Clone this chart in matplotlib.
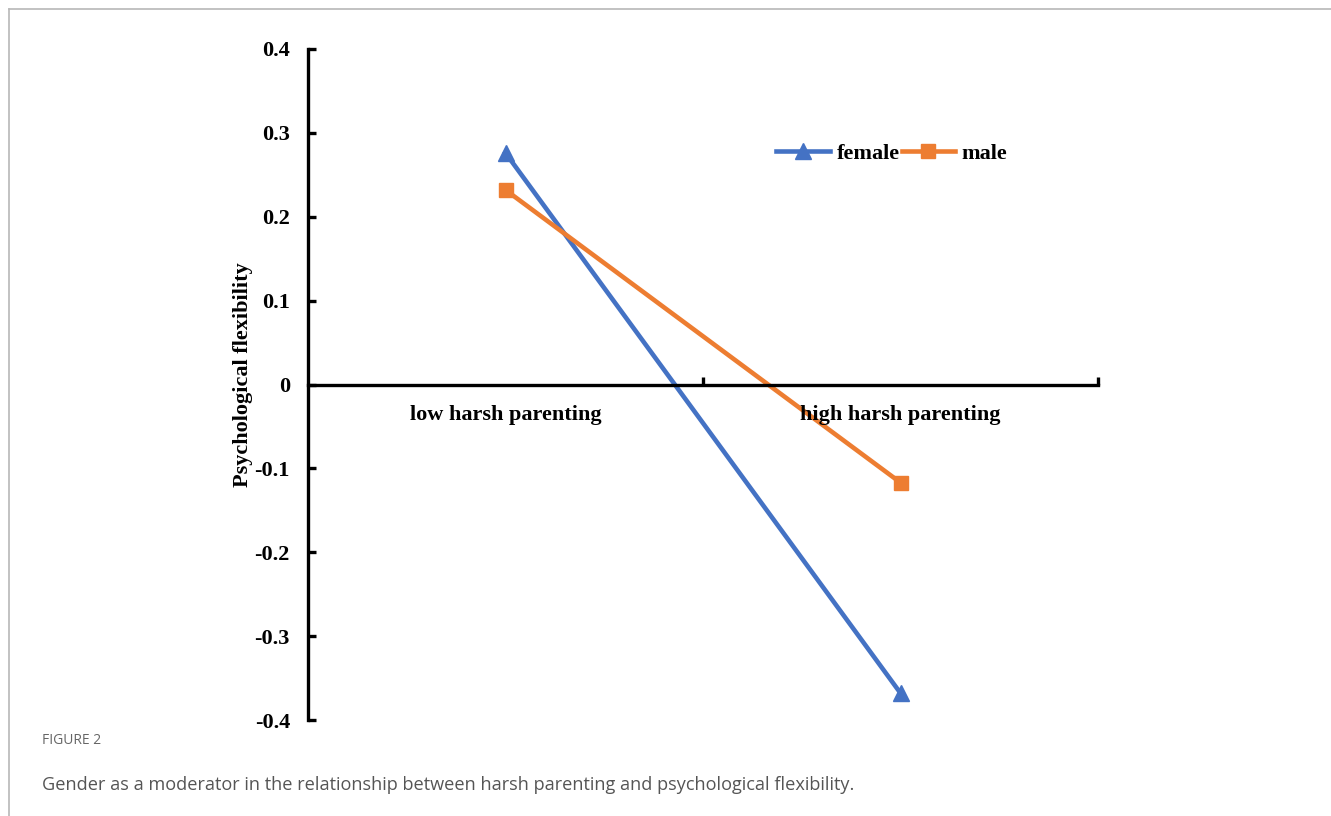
import matplotlib.pyplot as plt
from matplotlib.lines import Line2D

categories = ["low harsh parenting", "high harsh parenting"]
female = [0.276, -0.368]
male = [0.232, -0.117]
yticks = [-0.4, -0.3, -0.2, -0.1, 0, 0.1, 0.2, 0.3, 0.4]
ytick_labels = ["-0.4", "-0.3", "-0.2", "-0.1", "0", "0.1", "0.2", "0.3", "0.4"]

W, H = 1331, 816
fig = plt.figure(figsize=(W / 100, H / 100), dpi=100)

# light gray frame (top + left only)
fig.add_artist(Line2D([8.5 / W, 1], [1 - 9 / H, 1 - 9 / H], color="#b8b8b8", lw=1.2))
fig.add_artist(Line2D([8.5 / W, 8.5 / W], [0, 1 - 9 / H], color="#b8b8b8", lw=1.2))

ax = fig.add_axes([308 / W, 1 - 720 / H, (1098 - 308) / W, (720 - 49) / H])
serif = "Liberation Serif"
fs = 16

xs = [0.5 + i for i in range(len(categories))]
ax.plot(xs, female, color="#4472C4", lw=3.3, marker="^", ms=11, label="female", clip_on=False)
ax.plot(xs, male, color="#ED7D31", lw=3.3, marker="s", ms=9.5, label="male", clip_on=False)

ax.set_xlim(0, 2)
ax.set_ylim(-0.4, 0.4)
for s in ["top", "right"]:
    ax.spines[s].set_visible(False)
ax.spines["bottom"].set_position(("data", 0))
ax.spines["bottom"].set_linewidth(2.4)
ax.spines["left"].set_linewidth(2.4)
ax.spines["left"].set_bounds(-0.4, 0.4)

ax.set_xticks([1, 2])
ax.set_xticklabels([])
ax.tick_params(axis="x", direction="in", length=6, width=2.4)
ax.set_yticks(yticks)
ax.set_yticklabels(ytick_labels, fontfamily=serif, fontweight="bold", fontsize=fs)
ax.tick_params(axis="y", direction="in", length=6, width=2.4, pad=13)

for x, lab in zip(xs, categories):
    ax.text(x, -0.036, lab, ha="center", va="center", fontfamily=serif,
            fontweight="bold", fontsize=fs)

ax.set_ylabel("Psychological flexibility", fontfamily=serif, fontweight="bold", fontsize=fs)
ax.yaxis.set_label_coords(-0.07, 0.514)

ax.legend(loc="center", bbox_to_anchor=(892 / W, 1 - 154 / H), bbox_transform=fig.transFigure,
          ncol=2, frameon=False, handlelength=2.4, columnspacing=0.1, handletextpad=0.3,
          prop={"family": serif, "weight": "bold", "size": fs})

fig.text(42 / W, 1 - 740 / H, "FIGURE 2", fontfamily="Open Sans", fontsize=10,
         color="#666666", va="center")
fig.text(42 / W, 1 - 785 / H,
         "Gender as a moderator in the relationship between harsh parenting and psychological flexibility.",
         fontfamily="Open Sans", fontsize=13.1, color="#555555", va="center")

fig.savefig("out.png", dpi=100)
